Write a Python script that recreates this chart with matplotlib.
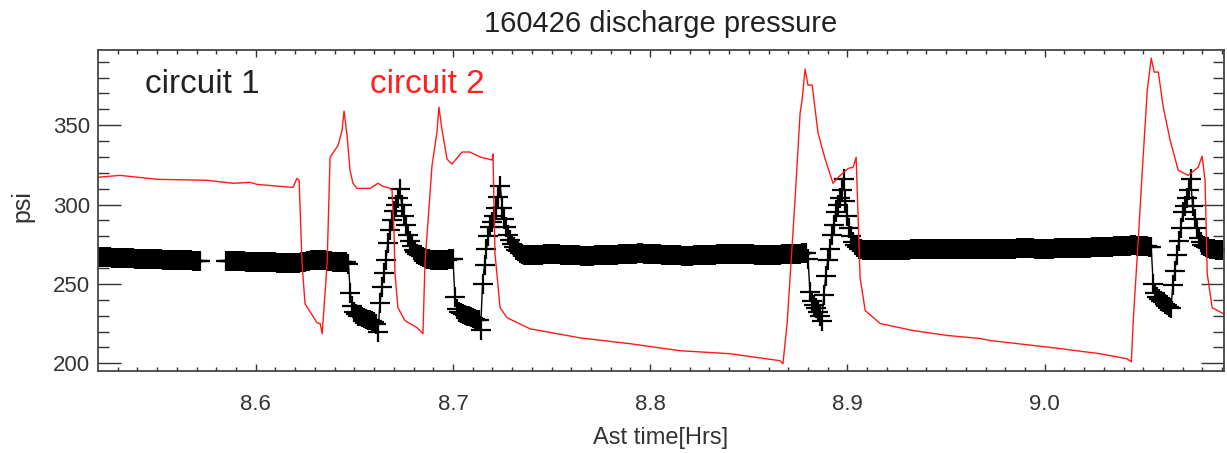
import numpy as np
import matplotlib
matplotlib.use("Agg")
import matplotlib.pyplot as plt
from matplotlib.ticker import MultipleLocator

plt.rcParams['font.family'] = ['Liberation Sans', 'DejaVu Sans']

# circuit 2 (red line): time [hrs] and pressure [psi]
c2_time = [8.5200, 8.5312, 8.5500, 8.5753, 8.5885, 8.5971, 8.6007, 8.6189, 8.6209, 8.6220,
           8.6235, 8.6250, 8.6311, 8.6327, 8.6337, 8.6362, 8.6377, 8.6418, 8.6438, 8.6448,
           8.6463, 8.6478, 8.6493, 8.6514, 8.6580, 8.6620, 8.6645, 8.6681, 8.6691, 8.6701,
           8.6706, 8.6721, 8.6757, 8.6818, 8.6848, 8.6858, 8.6894, 8.6919, 8.6929, 8.6944,
           8.6970, 8.6995, 8.7046, 8.7086, 8.7137, 8.7198, 8.7203, 8.7213, 8.7239, 8.7274,
           8.7391, 8.7644, 8.7898, 8.8151, 8.8405, 8.8658, 8.8673, 8.8694, 8.8719, 8.8734,
           8.8760, 8.8770, 8.8785, 8.8800, 8.8821, 8.8851, 8.8887, 8.8927, 8.8953, 8.9004,
           8.9029, 8.9044, 8.9064, 8.9090, 8.9166, 8.9333, 8.9506, 8.9673, 8.9724, 9.0028,
           9.0281, 9.0418, 9.0439, 9.0449, 9.0474, 9.0494, 9.0520, 9.0540, 9.0555, 9.0576,
           9.0601, 9.0636, 9.0677, 9.0727, 9.0778, 9.0798, 9.0813, 9.0824, 9.0849, 9.0905]
c2_psi = [317.2, 318.4, 315.9, 315.3, 313.4, 314.0, 312.7, 310.8, 316.5, 315.3,
          262.8, 237.5, 225.5, 224.9, 218.6, 262.8, 329.8, 337.4, 346.9, 358.9,
          343.8, 321.7, 313.4, 310.2, 310.2, 313.4, 311.5, 310.2, 309.0, 283.7,
          256.5, 235.0, 226.8, 222.4, 218.6, 262.8, 324.8, 345.6, 361.4, 347.5,
          328.6, 325.5, 333.1, 333.1, 330.0, 328.1, 331.9, 269.2, 235.0, 228.7,
          221.7, 216.0, 212.3, 207.9, 206.0, 201.6, 199.7, 225.0, 273.0, 302.6,
          357.7, 365.8, 385.4, 375.3, 375.3, 345.0, 328.6, 313.4, 317.2, 322.8,
          323.5, 329.8, 254.0, 233.2, 225.0, 220.6, 217.5, 215.6, 214.3, 210.0,
          206.0, 202.8, 200.9, 226.8, 277.4, 319.7, 372.1, 392.3, 383.5, 383.5,
          361.4, 340.5, 321.6, 318.4, 323.5, 330.5, 315.3, 256.5, 235.0, 231.3]

# circuit 1 (black '+'): one sample every 0.001 hr starting at 8.520 hr
c1_start = 8.520
c1_step = 0.001
c1_psi = [
    267.0, 266.9, 266.9, 266.8, 266.8, 266.7, 266.7, 266.6, 266.6, 266.5,
    266.5, 266.4, 266.4, 266.3, 266.3, 266.2, 266.2, 266.1, 266.1, 266.0,
    266.0, 265.9, 265.9, 265.8, 265.8, 265.7, 265.7, 265.6, 265.6, 265.5,
    265.5, 265.4, 265.4, 265.3, 265.3, 265.2, 265.2, 265.1, 265.1, 265.0,
    265.0, 265.0, 264.9, 264.9, 264.9, 264.8, 264.8, 264.8, 264.7, 264.7,
    264.7, 264.6, 264.6, np.nan, np.nan, np.nan, np.nan, np.nan, np.nan, np.nan,
    np.nan, np.nan, np.nan, np.nan, np.nan, 264.5, 264.4, 264.4, 264.4, 264.3,
    264.3, 264.3, 264.2, 264.2, 264.2, 264.1, 264.1, 264.1, 264.0, 264.0,
    264.0, 263.9, 263.9, 263.8, 263.8, 263.7, 263.7, 263.6, 263.6, 263.5,
    263.5, 263.4, 263.4, 263.3, 263.3, 263.2, 263.2, 263.2, 263.1, 263.1,
    263.1, 263.2, 263.3, 263.5, 263.8, 264.0, 264.3, 264.6, 264.8, 265.0,
    265.1, 265.2, 265.2, 265.1, 265.0, 264.8, 264.6, 264.4, 264.2, 264.0,
    263.9, 263.8, 263.7, 263.6, 263.6, 263.5, 263.5, 262.5, 244.0, 236.0,
    232.5, 231.0, 230.0, 229.5, 229.0, 228.5, 228.0, 227.5, 227.0, 226.5,
    226.0, 225.0, 220.0, 238.0, 248.0, 257.0, 265.0, 276.0, 284.0, 290.0,
    296.0, 300.0, 304.0, 310.0, 300.0, 293.0, 287.0, 281.0, 277.0, 274.0,
    271.5, 270.0, 269.0, 268.0, 267.5, 267.0, 266.5, 266.0, 265.5, 265.2,
    265.0, 265.0, 264.8, 264.8, 264.8, 264.8, 264.9, 265.1, 265.4, 265.8,
    266.0, 242.0, 234.0, 232.5, 231.5, 231.0, 230.5, 230.0, 229.5, 229.0,
    228.5, 228.0, 227.5, 227.0, 221.0, 250.0, 262.0, 272.0, 280.0, 286.0,
    289.0, 293.0, 298.0, 305.0, 312.0, 298.0, 291.0, 286.0, 281.0, 277.5,
    275.0, 273.0, 271.5, 270.5, 269.5, 268.8, 268.3, 268.0, 268.0, 268.0,
    268.0, 268.1, 268.2, 268.3, 268.4, 268.5, 268.6, 268.7, 268.7, 268.8,
    268.8, 268.8, 268.7, 268.6, 268.6, 268.5, 268.4, 268.4, 268.3, 268.2,
    268.2, 268.1, 268.0, 268.0, 267.9, 267.8, 267.8, 267.8, 267.8, 267.8,
    267.8, 267.8, 267.9, 267.9, 268.0, 268.0, 268.1, 268.1, 268.2, 268.3,
    268.3, 268.4, 268.5, 268.5, 268.6, 268.7, 268.8, 268.8, 268.9, 269.0,
    269.0, 269.0, 269.1, 269.1, 269.2, 269.2, 269.2, 269.1, 269.1, 269.0,
    269.0, 268.9, 268.9, 268.8, 268.7, 268.6, 268.5, 268.4, 268.3, 268.2,
    268.2, 268.1, 268.0, 268.0, 267.9, 267.9, 267.8, 267.8, 267.8, 267.8,
    267.8, 267.8, 267.9, 267.9, 268.0, 268.0, 268.1, 268.2, 268.2, 268.3,
    268.3, 268.4, 268.5, 268.5, 268.6, 268.6, 268.7, 268.7, 268.8, 268.8,
    268.8, 268.8, 268.9, 268.9, 268.9, 268.9, 268.9, 268.8, 268.8, 268.7,
    268.7, 268.6, 268.6, 268.5, 268.5, 268.4, 268.4, 268.3, 268.3, 268.3,
    268.3, 268.3, 268.4, 268.4, 268.4, 268.5, 268.5, 268.6, 268.6, 268.7,
    268.8, 268.8, 268.9, 268.9, 269.0, 269.0, 269.1, 269.2, 269.3, 269.5,
    266.0, 245.0, 239.5, 237.0, 235.0, 232.0, 229.5, 226.8, 243.0, 255.0,
    265.0, 272.0, 281.0, 287.0, 295.0, 300.0, 304.0, 309.0, 316.0, 302.0,
    293.0, 285.0, 280.0, 276.5, 274.5, 273.0, 272.3, 271.8, 271.5, 271.2,
    271.1, 271.1, 271.1, 271.2, 271.2, 271.2, 271.2, 271.3, 271.3, 271.3,
    271.3, 271.3, 271.4, 271.4, 271.4, 271.5, 271.5, 271.5, 271.6, 271.6,
    271.6, 271.6, 271.7, 271.7, 271.7, 271.7, 271.8, 271.8, 271.8, 271.8,
    271.8, 271.9, 271.9, 271.9, 272.0, 272.0, 272.0, 272.0, 272.0, 272.0,
    272.0, 272.0, 272.0, 271.9, 271.9, 271.9, 271.9, 271.8, 271.8, 271.8,
    271.8, 271.8, 271.8, 271.8, 271.9, 271.9, 271.9, 271.9, 271.9, 271.9,
    271.9, 272.0, 272.0, 272.0, 272.1, 272.1, 272.1, 272.1, 272.2, 272.2,
    272.2, 272.2, 272.3, 272.3, 272.3, 272.3, 272.4, 272.4, 272.4, 272.4,
    272.4, 272.4, 272.4, 272.4, 272.4, 272.3, 272.3, 272.3, 272.3, 272.3,
    272.3, 272.3, 272.3, 272.3, 272.3, 272.4, 272.4, 272.4, 272.4, 272.4,
    272.4, 272.4, 272.5, 272.5, 272.5, 272.6, 272.6, 272.7, 272.7, 272.8,
    272.8, 272.8, 272.9, 272.9, 273.0, 273.0, 273.1, 273.1, 273.2, 273.2,
    273.3, 273.3, 273.4, 273.4, 273.5, 273.6, 273.6, 273.7, 273.8, 273.8,
    273.9, 274.0, 274.0, 274.1, 274.2, 274.3, 274.2, 274.1, 274.0, 273.9,
    273.8, 273.7, 273.6, 273.5, 273.0, 250.0, 244.0, 242.0, 240.5, 239.5,
    238.5, 237.5, 236.5, 235.5, 235.0, 249.0, 258.0, 268.0, 277.0, 285.0,
    295.0, 299.0, 304.0, 309.0, 316.0, 299.0, 291.0, 285.0, 279.0, 276.5,
    274.5, 273.8, 273.2, 272.7, 272.3, 272.0, 271.8, 271.6, 271.4, 271.2,
    271.1,
]
c1_time = c1_start + c1_step * np.arange(len(c1_psi))

x_ticks = [8.6, 8.7, 8.8, 8.9, 9.0]
y_ticks = [200, 250, 300, 350]

W, H = 1227, 453
fig = plt.figure(figsize=(W / 100, H / 100), dpi=100)
ax = fig.add_axes([98.3 / W, 1 - 370.7 / H, (1224 - 98.3) / W, (370.7 - 50) / H])

ax.plot(c1_time, c1_psi, color='black', lw=1.0, marker='+', ms=15, mew=1.6)
ax.plot(c2_time, c2_psi, color='#ff1a1a', lw=1.0)

ax.set_xlim(8.5202, 9.0909)
ax.set_ylim(195.3, 397.4)
ax.set_xticks(x_ticks)
ax.set_xticklabels([f"{v:.1f}" for v in x_ticks])
ax.set_yticks(y_ticks)
ax.xaxis.set_minor_locator(MultipleLocator(0.01))
ax.yaxis.set_minor_locator(MultipleLocator(10))

for s in ax.spines.values():
    s.set_linewidth(1.3)
    s.set_color('#444444')
ax.tick_params(axis='both', which='both', direction='in', top=True, right=True,
               colors='#333333', width=1.0)
ax.tick_params(axis='y', which='major', length=16.5, pad=6, labelsize=16)
ax.tick_params(axis='y', which='minor', length=8)
ax.tick_params(axis='x', which='major', length=5, pad=17, labelsize=16)
ax.tick_params(axis='x', which='minor', length=3)

fig.text(661 / W, 1 - 24 / H, '160426 discharge pressure', ha='center', va='center',
         fontsize=21, color='#222222')
fig.text(661 / W, 1 - 438 / H, 'Ast time[Hrs]', ha='center', va='center',
         fontsize=17, color='#333333')
fig.text(22 / W, 1 - 206 / H, 'psi', ha='center', va='center', rotation=90,
         fontsize=18, color='#333333')

ax.text(0.0415, 0.866, 'circuit 1', transform=ax.transAxes, fontsize=24,
        color='#222222', va='baseline', ha='left')
ax.text(0.2414, 0.866, 'circuit 2', transform=ax.transAxes, fontsize=24,
        color='#ff2020', va='baseline', ha='left')

fig.savefig('out.png', dpi=100)
